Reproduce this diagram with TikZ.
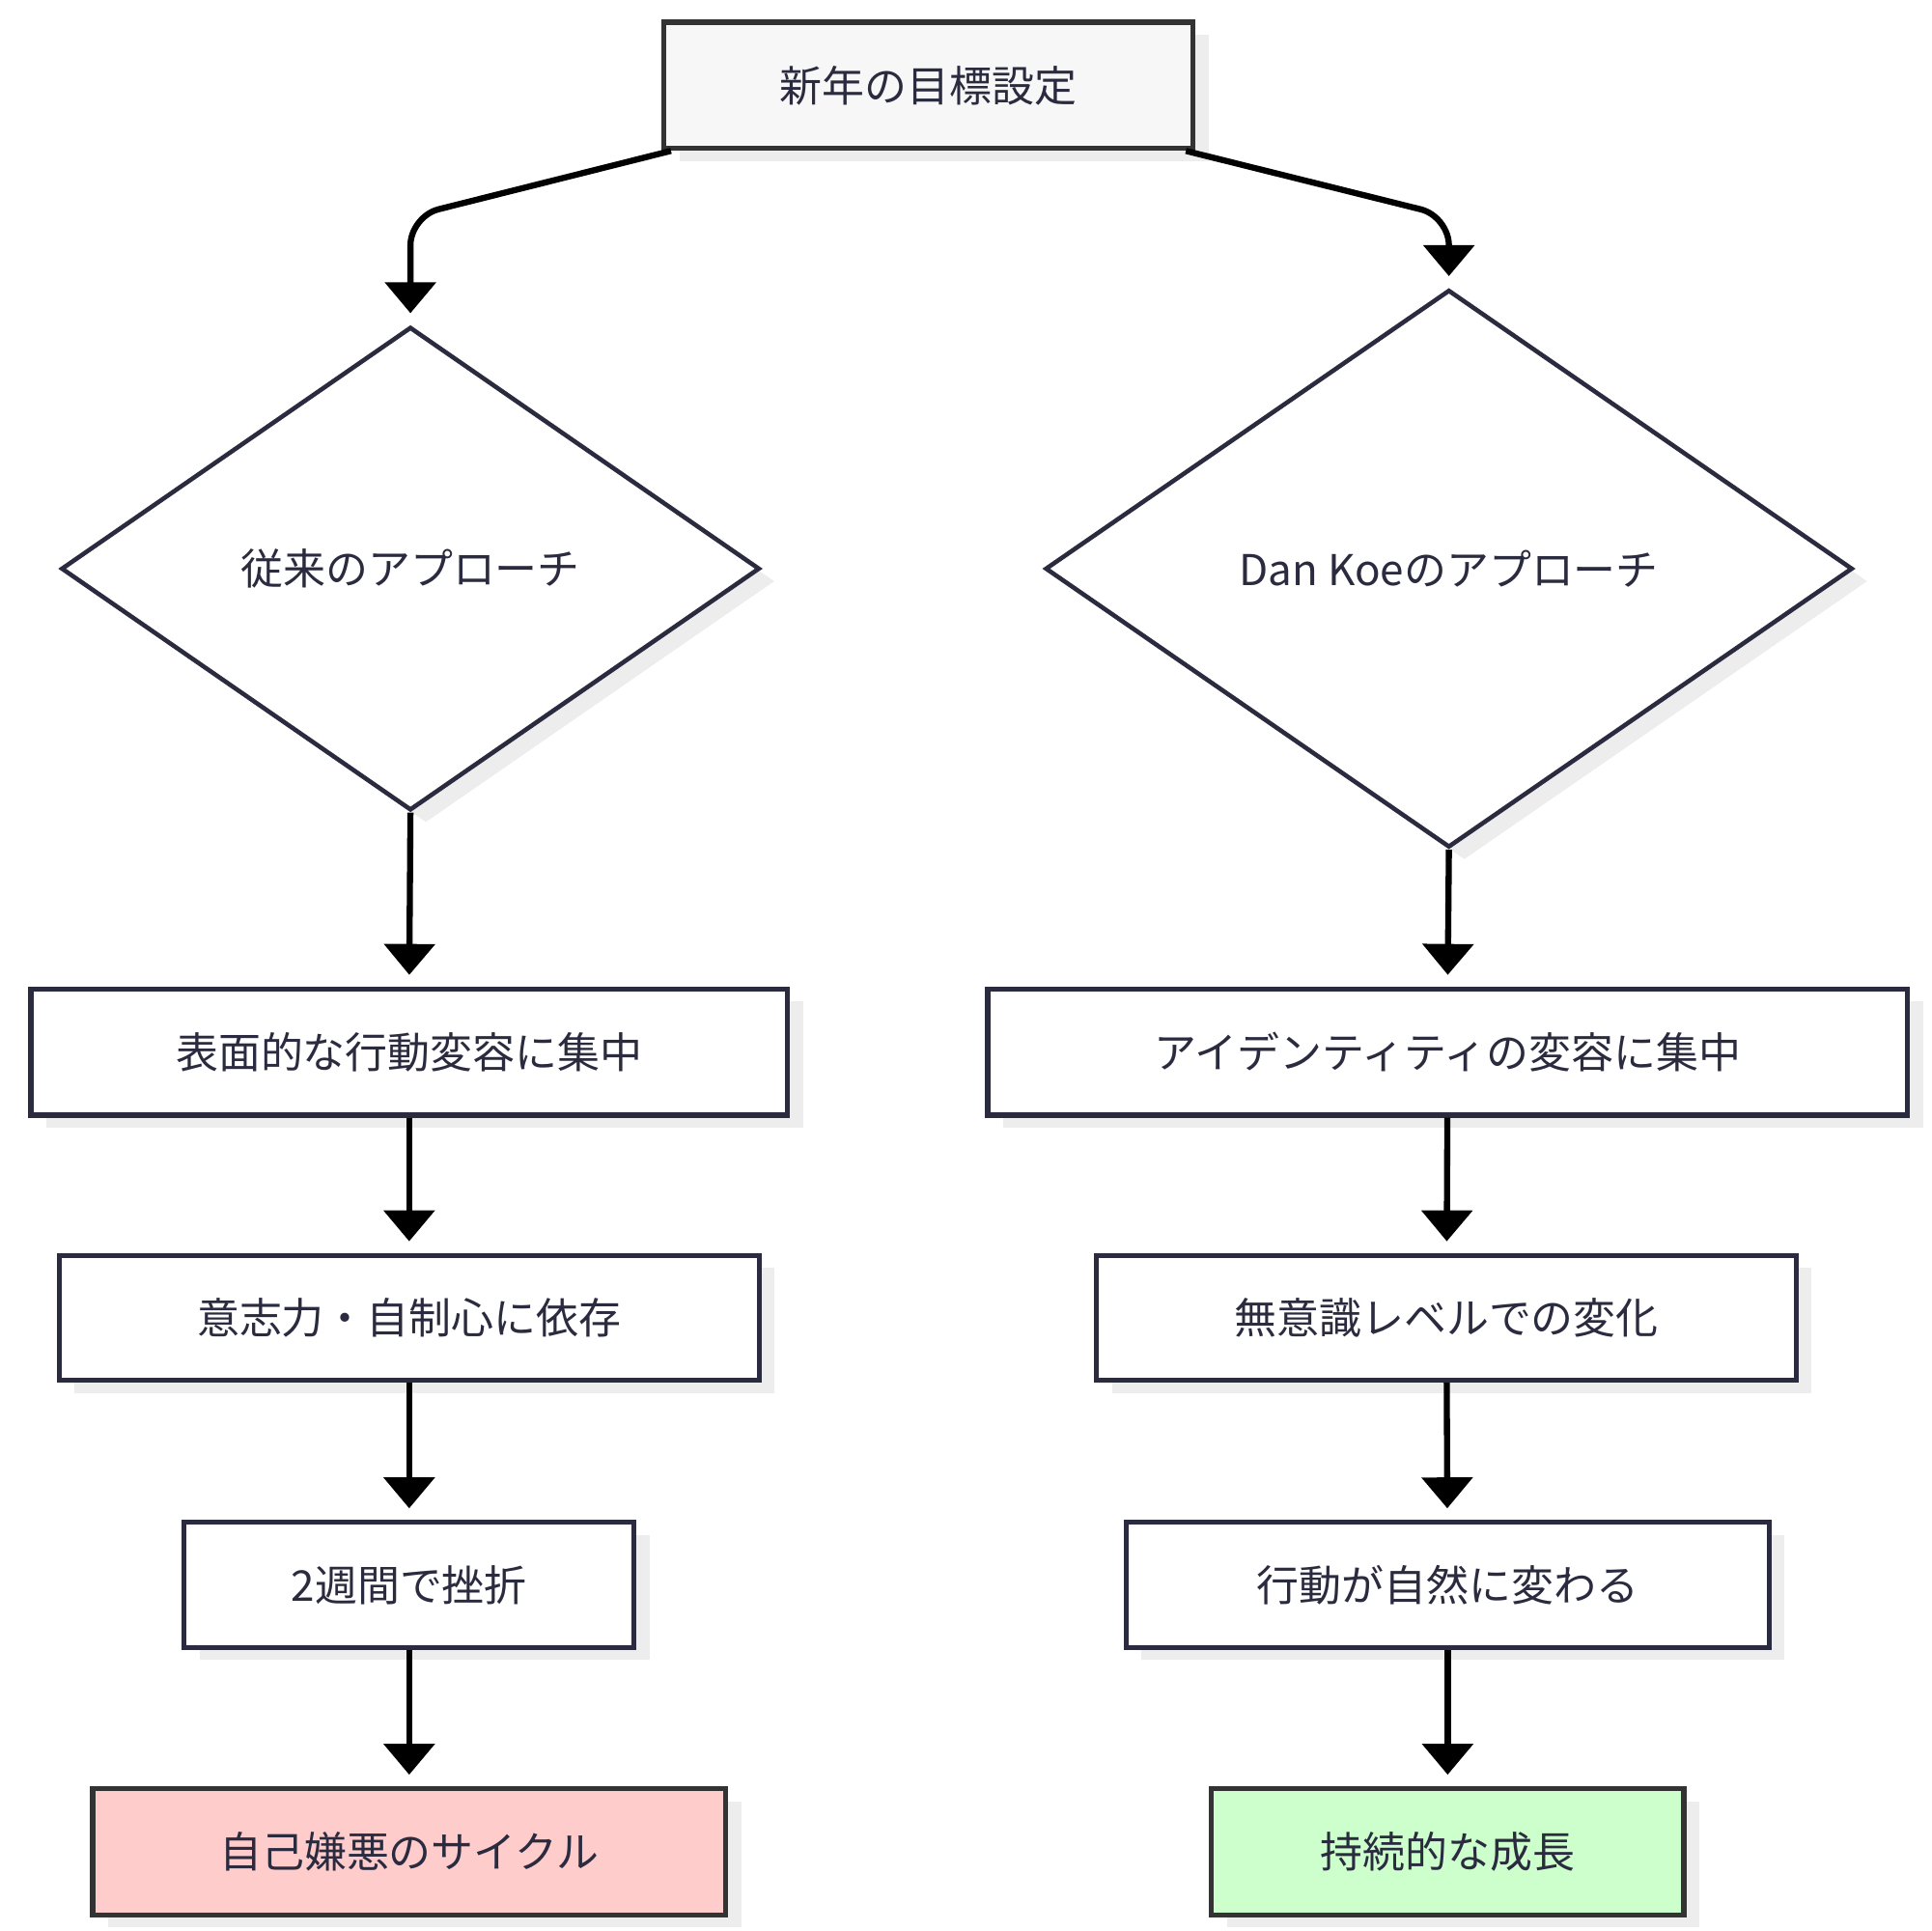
\documentclass[tikz,border=0pt]{standalone}
\usepackage{fontspec}
\setmainfont{Noto Sans CJK JP}
\usetikzlibrary{shapes.geometric,arrows.meta,shadows,positioning}
\definecolor{ink}{HTML}{2B2B40}
\definecolor{edge}{HTML}{333333}
\definecolor{shade}{HTML}{EDEDED}
\definecolor{badfill}{HTML}{FFCCCC}
\definecolor{goodfill}{HTML}{CCFFCC}
\tikzset{
	box/.style={draw=ink,line width=1.5pt,fill=white,text=ink,font=\fontsize{12.5}{14}\selectfont,inner sep=0pt,
		drop shadow={shadow xshift=0.16cm,shadow yshift=-0.13cm,opacity=1,fill=shade}},
	choice/.style={box,diamond,line width=1.3pt},
	flow/.style={line width=1.8pt,-{Triangle[width=0.52cm,length=0.32cm]}},
}
\begin{document}
\begin{tikzpicture}[x=0.0128cm,y=-0.0128cm]
	\useasboundingbox (0,0) rectangle (1562,1562);
	% start
	\node[box,draw=edge,fill=gray!6,minimum width={428*0.0128cm},minimum height={102*0.0128cm}] (goal) at (751,69) {新年の目標設定};
	% left branch
	\node[choice,minimum width={565*0.0128cm},minimum height={391*0.0128cm}] (trad) at (332,460) {従来のアプローチ};
	\node[box,minimum width={612*0.0128cm},minimum height={102*0.0128cm}] (surface) at (331,851) {表面的な行動変容に集中};
	\node[box,minimum width={566*0.0128cm},minimum height={101*0.0128cm}] (will) at (331,1066) {意志力・自制心に依存};
	\node[box,minimum width={364*0.0128cm},minimum height={101*0.0128cm}] (fail) at (331,1282) {2週間で挫折};
	\node[box,draw=edge,fill=badfill,minimum width={512*0.0128cm},minimum height={102*0.0128cm}] (hate) at (331,1498) {自己嫌悪のサイクル};
	% right branch
	\node[choice,minimum width={653*0.0128cm},minimum height={451*0.0128cm}] (dan) at (1172,460) {Dan Koeのアプローチ};
	\node[box,minimum width={744*0.0128cm},minimum height={102*0.0128cm}] (ident) at (1171,851) {アイデンティティの変容に集中};
	\node[box,minimum width={566*0.0128cm},minimum height={101*0.0128cm}] (uncon) at (1170,1066) {無意識レベルでの変化};
	\node[box,minimum width={520*0.0128cm},minimum height={101*0.0128cm}] (act) at (1171,1282) {行動が自然に変わる};
	\node[box,draw=edge,fill=goodfill,minimum width={382*0.0128cm},minimum height={102*0.0128cm}] (grow) at (1171,1498) {持続的な成長};
	% connectors
	\draw[flow,rounded corners=0.3cm,shorten >=0.12cm] ([xshift=0.1cm]goal.south west) -- (332,175) -- (trad.north);
	\draw[flow,rounded corners=0.3cm,shorten >=0.12cm] ([xshift=-0.1cm]goal.south east) -- (1172,175) -- (dan.north);
	\draw[flow,shorten >=0.12cm] (trad.south) -- (surface.north);
	\draw[flow,shorten >=0.12cm] (surface) -- (will);
	\draw[flow,shorten >=0.12cm] (will) -- (fail);
	\draw[flow,shorten >=0.12cm] (fail) -- (hate);
	\draw[flow,shorten >=0.12cm] (dan.south) -- (ident.north);
	\draw[flow,shorten >=0.12cm] (ident) -- (uncon);
	\draw[flow,shorten >=0.12cm] (uncon) -- (act);
	\draw[flow,shorten >=0.12cm] (act) -- (grow);
\end{tikzpicture}
\end{document}
